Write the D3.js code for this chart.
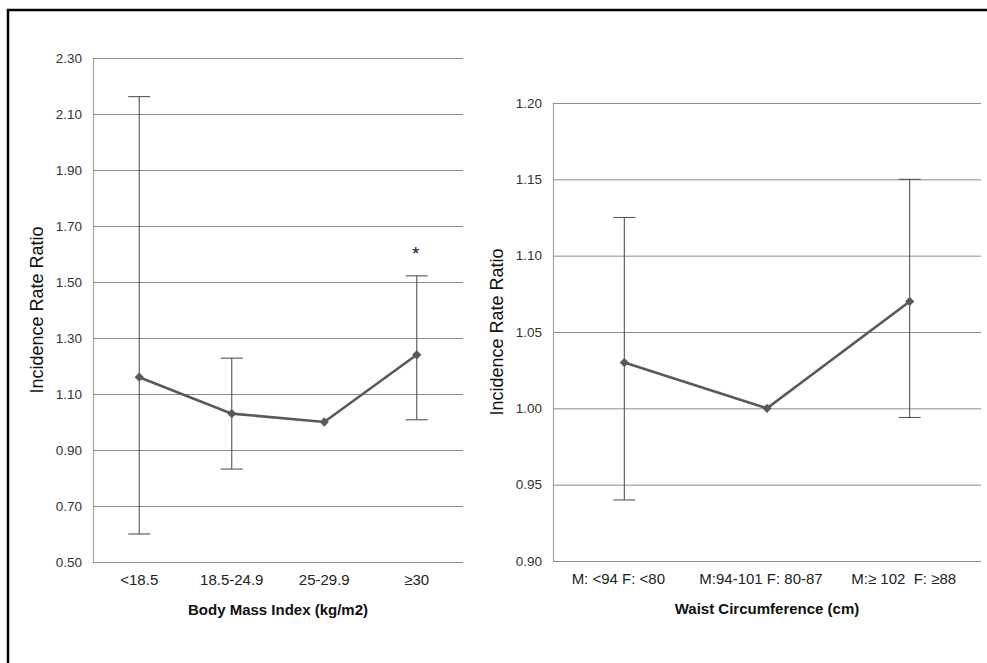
<!DOCTYPE html>
<html>
<head>
<meta charset="utf-8">
<script src="https://cdn.jsdelivr.net/npm/d3@7"></script>
<style>
  body { margin: 0; background: #fff; }
  svg { display: block; font-family: "Liberation Sans", Arial, sans-serif; }
</style>
</head>
<body>
<svg id="chart" width="987" height="663"></svg>
<script>
// Body Mass Index panel
var bmiCategories = ['<18.5', '18.5-24.9', '25-29.9', '\u226530'];
var bmiIRR = [1.16, 1.03, 1.00, 1.24];
var bmiLower = [0.60, 0.832, null, 1.008];
var bmiUpper = [2.162, 1.228, null, 1.522];
var bmiTicks = [0.50, 0.70, 0.90, 1.10, 1.30, 1.50, 1.70, 1.90, 2.10, 2.30];
var bmiStar = [false, false, false, true];

// Waist circumference panel
var waistCategories = ['M: <94 F: <80', 'M:94-101 F: 80-87', 'M:\u2265 102  F: \u226588'];
var waistIRR = [1.03, 1.00, 1.07];
var waistLower = [0.94, null, 0.994];
var waistUpper = [1.125, null, 1.15];
var waistTicks = [0.90, 0.95, 1.00, 1.05, 1.10, 1.15, 1.20];

var svg = d3.select('#chart');

// outer frame (top and left edges visible)
svg.append('path')
    .attr('d', 'M8,663 L8,10 L987,10')
    .attr('fill', 'none')
    .attr('stroke', '#000')
    .attr('stroke-width', 2.5);

function panel(opts) {
  var g = svg.append('g');
  var x = d3.scaleBand().domain(opts.categories).range([opts.left, opts.right]);
  var y = d3.scaleLinear().domain(opts.domain).range([opts.bottom, opts.top]);

  // gridlines + left axis line
  var yAxis = d3.axisLeft(y).tickValues(opts.ticks).tickFormat(d3.format('.2f'))
      .tickSize(-(opts.right - opts.left)).tickPadding(11);
  var ya = g.append('g').attr('transform', 'translate(' + opts.left + ',0)').call(yAxis);
  ya.select('.domain').attr('stroke', '#a6a6a6').attr('stroke-width', 1.2);
  ya.selectAll('.tick line').attr('stroke', '#8c8c8c').attr('stroke-width', 1);
  ya.selectAll('.tick text').attr('fill', '#333').style('font-size', '13.5px');

  // category labels
  g.selectAll('.xlab').data(opts.categories).enter().append('text')
      .attr('x', function(d) { return x(d) + x.bandwidth() / 2 + (opts.labelShift || 0); })
      .attr('y', opts.bottom + 23)
      .attr('text-anchor', 'middle')
      .attr('fill', '#222')
      .style('font-size', '15px')
      .style('white-space', 'pre')
      .text(function(d) { return d; });

  // axis titles
  g.append('text')
      .attr('x', (opts.left + opts.right) / 2)
      .attr('y', opts.bottom + 53)
      .attr('text-anchor', 'middle')
      .attr('fill', '#111')
      .style('font-size', '15px')
      .style('font-weight', 'bold')
      .text(opts.xTitle);

  g.append('text')
      .attr('transform', 'translate(' + opts.titleX + ',' + (opts.top + opts.bottom) / 2 + ') rotate(-90)')
      .attr('text-anchor', 'middle')
      .attr('fill', '#111')
      .style('font-size', '18px')
      .text('Incidence Rate Ratio');

  var cx = function(i) { return x(opts.categories[i]) + x.bandwidth() / 2; };
  var cap = 11;

  // error bars
  opts.values.forEach(function(v, i) {
    if (opts.lower[i] == null) return;
    var eb = g.append('g').attr('stroke', '#555').attr('stroke-width', 1.1);
    eb.append('line').attr('x1', cx(i)).attr('x2', cx(i))
        .attr('y1', y(opts.lower[i])).attr('y2', y(opts.upper[i]));
    [opts.lower[i], opts.upper[i]].forEach(function(e) {
      eb.append('line').attr('x1', cx(i) - cap).attr('x2', cx(i) + cap)
          .attr('y1', y(e)).attr('y2', y(e));
    });
  });

  // line
  var line = d3.line().x(function(d, i) { return cx(i); }).y(function(d) { return y(d); });
  g.append('path').datum(opts.values)
      .attr('d', line)
      .attr('fill', 'none')
      .attr('stroke', '#595959')
      .attr('stroke-width', 2.6);

  // diamond markers
  g.selectAll('.pt').data(opts.values).enter().append('path')
      .attr('d', d3.symbol().type(d3.symbolDiamond2).size(55))
      .attr('transform', function(d, i) { return 'translate(' + cx(i) + ',' + y(d) + ')'; })
      .attr('fill', '#595959');

  // significance markers
  if (opts.star) {
    opts.values.forEach(function(v, i) {
      if (!opts.star[i]) return;
      g.append('text')
          .attr('x', cx(i) - 1)
          .attr('y', y(opts.upper[i]) - 16)
          .attr('text-anchor', 'middle')
          .attr('fill', '#111')
          .style('font-size', '19px')
          .text('*');
    });
  }
}

panel({
  categories: bmiCategories, values: bmiIRR, lower: bmiLower, upper: bmiUpper,
  ticks: bmiTicks, domain: [0.5, 2.3], star: bmiStar,
  left: 93, right: 463, top: 58, bottom: 562,
  titleX: 43, xTitle: 'Body Mass Index (kg/m2)'
});

panel({
  categories: waistCategories, values: waistIRR, lower: waistLower, upper: waistUpper,
  ticks: waistTicks, domain: [0.9, 1.2],
  left: 553, right: 981, top: 103, bottom: 561,
  titleX: 503, xTitle: 'Waist Circumference (cm)', labelShift: -6
});
</script>
</body>
</html>
